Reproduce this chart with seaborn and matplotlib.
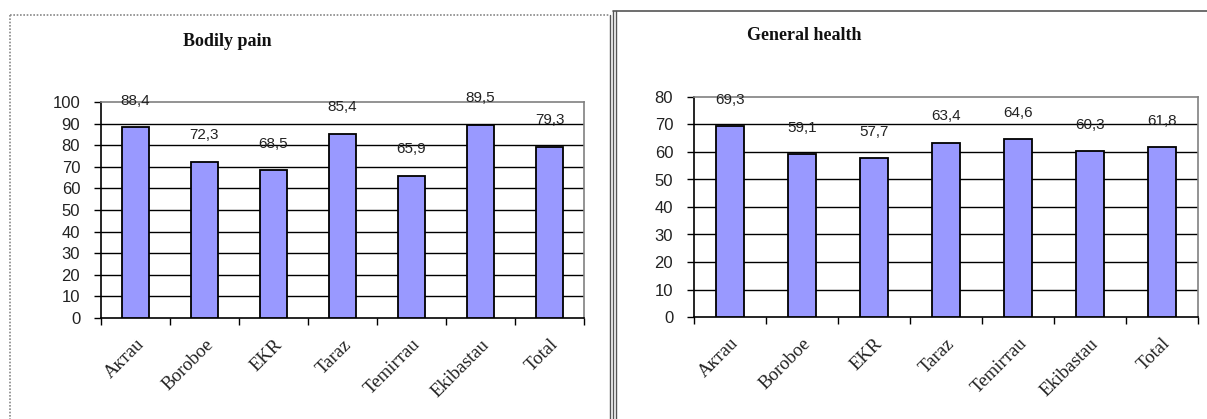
import matplotlib
matplotlib.use("Agg")
import matplotlib.pyplot as plt
import seaborn as sns
import pandas as pd
from matplotlib.lines import Line2D

categories = ["Aктau", "Boroboe", "EKR", "Taraz", "Temirтau", "Ekibastau", "Total"]
bodily_pain = [88.4, 72.3, 68.5, 85.4, 65.9, 89.5, 79.3]
general_health = [69.3, 59.1, 57.7, 63.4, 64.6, 60.3, 61.8]
bp_ticks = list(range(0, 101, 10))
gh_ticks = list(range(0, 81, 10))

sns.set_theme(style="white")
plt.rcParams['font.family'] = ['Liberation Sans', 'DejaVu Sans']

W, H = 1207, 419
fig = plt.figure(figsize=(W / 100, H / 100), dpi=100)
fig.patch.set_facecolor("white")

def fx(px):
    return px / W

def fy(py):
    return 1 - py / H

BAR = "#9999ff"

def panel(rect, vals, ticks, title, title_xy):
    ax = fig.add_axes(rect)
    df = pd.DataFrame({"cat": categories, "val": vals})
    sns.barplot(data=df, x="cat", y="val", color=BAR, saturation=1,
                edgecolor="black", linewidth=1.3, width=0.4, ax=ax, zorder=3)
    ax.set_ylim(ticks[0], ticks[-1])
    ax.set_xlim(-0.5, len(categories) - 0.5)
    ax.set_yticks(ticks)
    ax.set_yticklabels([str(t) for t in ticks], fontsize=12, color="#222222")
    for t in ticks[1:-1]:
        ax.axhline(t, color="black", lw=1.0, zorder=1)
    ax.set_xlabel("")
    ax.set_ylabel("")
    ax.set_xticks(range(len(categories)))
    ax.set_xticklabels(categories, rotation=45, ha="right", rotation_mode="anchor",
                       fontsize=13.5, family=["Liberation Serif", "DejaVu Serif"], color="#222222")
    ax.tick_params(axis="x", which="major", length=0, pad=13)
    ax.set_xticks([i - 0.5 for i in range(len(categories) + 1)], minor=True)
    ax.tick_params(axis="x", which="minor", length=5, width=1, color="black",
                   direction="out", bottom=True)
    ax.tick_params(axis="y", length=5, width=1, color="black", direction="out",
                   left=True, pad=10)
    for s in ["left", "bottom"]:
        ax.spines[s].set_color("black")
        ax.spines[s].set_linewidth(1.2)
    for s in ["top", "right"]:
        ax.spines[s].set_color("#808080")
        ax.spines[s].set_linewidth(1.2)
        ax.spines[s].set_visible(True)
    ax.set_facecolor("white")
    labels = [f"{v:.1f}".replace(".", ",") for v in vals]
    ax.bar_label(ax.containers[0], labels=labels, padding=14, fontsize=11,
                 family=["Liberation Sans Narrow", "Liberation Sans"], color="#222222")
    fig.text(fx(title_xy[0]), fy(title_xy[1]), title, fontsize=13,
             fontweight="bold", family=["Liberation Serif"], color="#111111",
             ha="left", va="center")
    return ax

panel([fx(101), fy(318), fx(584) - fx(101), fy(102) - fy(318)],
      bodily_pain, bp_ticks, "Bodily pain", (183, 42))
panel([fx(694), fy(317), fx(1198) - fx(694), fy(97) - fy(317)],
      general_health, gh_ticks, "General health", (747, 35))

# panel frames
fig.add_artist(Line2D([fx(10), fx(610)], [fy(15), fy(15)], color="#888888", lw=1.2, ls=(0, (1, 1))))
fig.add_artist(Line2D([fx(10), fx(10)], [fy(15), fy(419)], color="#888888", lw=1.2, ls=(0, (1, 1))))
fig.add_artist(Line2D([fx(610), fx(610)], [fy(15), fy(419)], color="#555555", lw=1.0))
fig.add_artist(Line2D([fx(613), fx(1207)], [fy(11), fy(11)], color="#555555", lw=1.2))
fig.add_artist(Line2D([fx(613), fx(613)], [fy(11), fy(419)], color="#555555", lw=1.0))
fig.add_artist(Line2D([fx(615.5), fx(615.5)], [fy(11), fy(419)], color="#555555", lw=1.0))

fig.savefig("out.png", dpi=100, facecolor="white")
